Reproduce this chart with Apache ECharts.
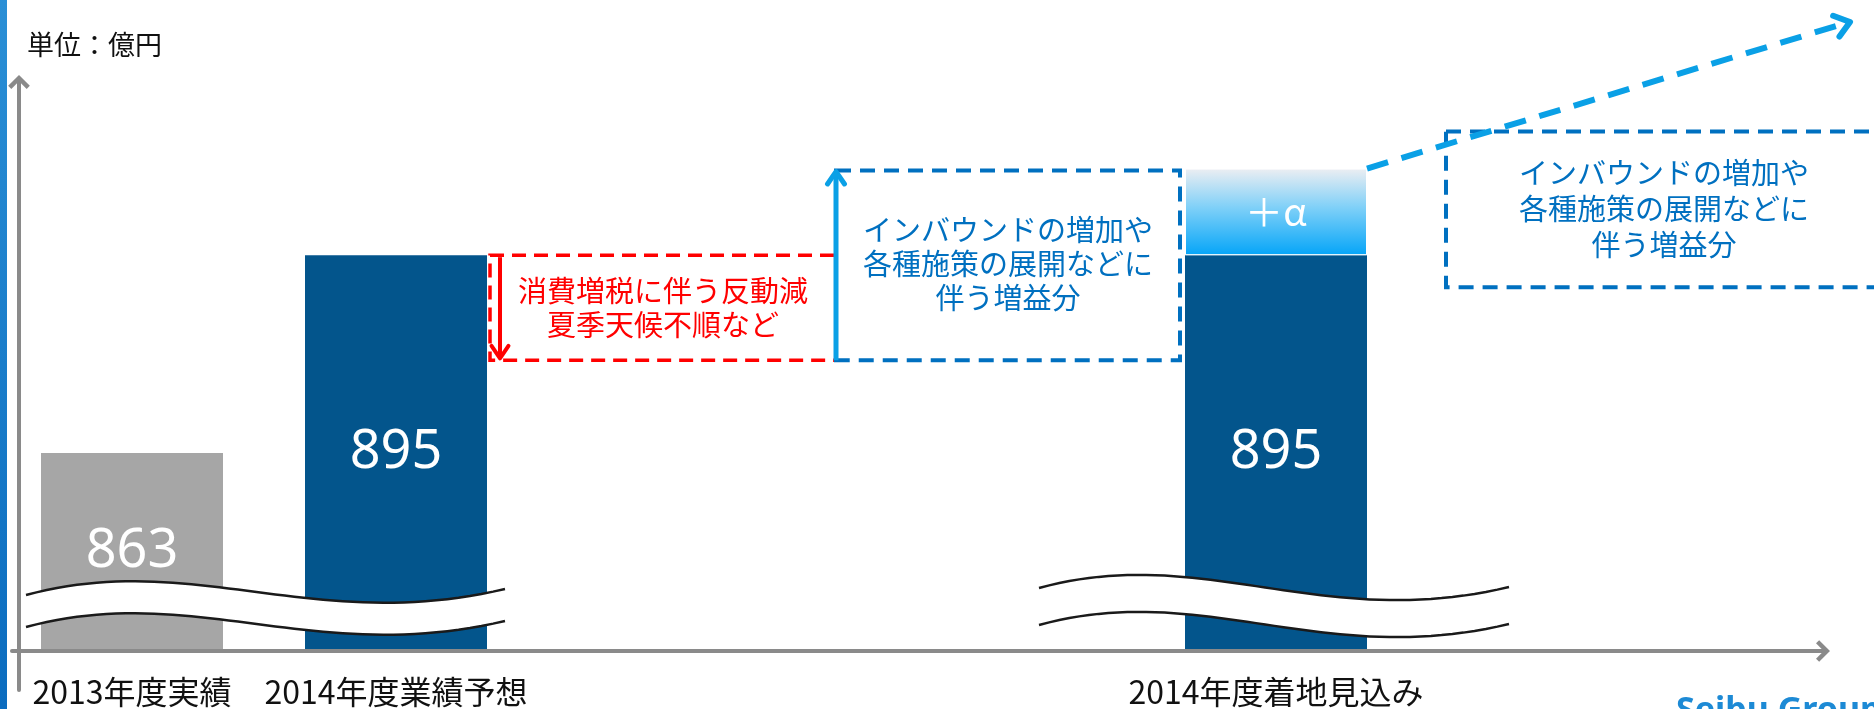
<!DOCTYPE html>
<html><head><meta charset="utf-8">
<script src="https://cdn.jsdelivr.net/npm/echarts@6/dist/echarts.min.js"></script>
<style>html,body{margin:0;padding:0;background:#fff;overflow:hidden}#c{width:1874px;height:709px;}</style>
</head><body><div id="c"></div>
<script>
// ---- data ----
const categories = ['','2013年度実績','','','2014年度業績予想','','','','','','','','','','2014年度着地見込み','',''];
const mainValues = [null,863,null,null,895,null,null,null,null,null,null,null,null,null,895,null,null];
const upsideValues = [null,null,null,null,null,null,null,null,null,null,null,null,null,null,14,null,null];
const upsideLabel = '＋α';
const declineLevel = 878;
const unitLabel = '単位：億円';
const declineNote = ['消費増税に伴う反動減','夏季天候不順など'];
const upsideNote = ['インバウンドの増加や','各種施策の展開などに','伴う増益分'];
const logoText = 'Seibu Group';
const yMin = 831, yMax = 923;

// ---- chart ----
const JP = '"Noto Sans CJK JP", "Noto Sans", sans-serif';
const BAR_W = 182;
const GRAY = '#a6a6a6', NAVY = '#03558c', RED = '#ff0000', BLUE = '#0070c0', SKY = '#0aa0e6', AXIS = '#8a8a8a';
const CHEVRON = 'path://M12,0 L24,12 L20.5,15.5 L12,7 L3.5,15.5 L0,12 Z';

const chart = echarts.init(document.getElementById('c'), null, {renderer: 'canvas'});
const decoAxisLine = {show: true, onZero: true, lineStyle: {color: AXIS, width: 4}, symbol: ['none', CHEVRON], symbolSize: [22, 14], symbolOffset: [0, 0]};
const firstIdx = categories.indexOf('2013年度実績');
chart.setOption({
  animation: false,
  backgroundColor: '#fff',
  grid: [
    {left: -3, right: 378, top: 82, bottom: 58},
    {left: 12, right: 51, top: 82, bottom: 19}
  ],
  xAxis: [
    {type: 'category', gridIndex: 0, data: categories,
     axisLine: {show: false}, axisTick: {show: false}, splitLine: {show: false},
     axisLabel: {interval: 0, fontSize: 32, color: '#111', margin: 25, fontFamily: JP}},
    {type: 'value', gridIndex: 1, min: -7, max: 1804, z: 5,
     axisLine: decoAxisLine, axisTick: {show: false}, axisLabel: {show: false}, splitLine: {show: false}}
  ],
  yAxis: [
    {type: 'value', gridIndex: 0, min: yMin, max: yMax, show: false},
    {type: 'value', gridIndex: 1, min: -39, max: 569, z: 5,
     axisLine: decoAxisLine, axisTick: {show: false}, axisLabel: {show: false}, splitLine: {show: false}}
  ],
  series: [
    {type: 'bar', name: 'base', xAxisIndex: 0, yAxisIndex: 0, stack: 'total', barWidth: BAR_W,
     data: mainValues,
     itemStyle: {color: p => p.dataIndex === firstIdx ? GRAY : NAVY},
     label: {show: true, position: 'inside', color: '#fff', fontSize: 54, fontFamily: '"Noto Sans", sans-serif'}},
    {type: 'bar', name: 'upside', xAxisIndex: 0, yAxisIndex: 0, stack: 'total', barWidth: BAR_W,
     data: upsideValues,
     itemStyle: {borderColor: '#fff', borderWidth: 1,
       color: {type: 'linear', x: 0, y: 0, x2: 0, y2: 1, colorStops: [
         {offset: 0, color: '#eceef2'}, {offset: 0.45, color: '#7fd0f8'}, {offset: 1, color: '#05a5f8'}]}},
     label: {show: true, position: 'inside', formatter: upsideLabel, color: '#fff', fontSize: 38, fontFamily: JP}}
  ]
});

// ---- annotations (anchored on library coordinates) ----
const px = (i, v) => chart.convertToPixel({gridIndex: 0}, [i, v]);
const i1 = firstIdx, i2 = categories.indexOf('2014年度業績予想'), i3 = categories.indexOf('2014年度着地見込み');
const half = BAR_W / 2;
const c1 = px(i1, mainValues[i1])[0];
const [c2, yTop2] = px(i2, mainValues[i2]);
const [c3, yTop3] = px(i3, mainValues[i3]);
const yUp = px(i3, mainValues[i3] + upsideValues[i3])[1];
const yDecl = px(i2, declineLevel)[1];
const yBase = px(i1, yMin)[1];

function chevron(tx, ty, ang, len, spread, color, w) {
  const a1 = ang + Math.PI - spread, a2 = ang + Math.PI + spread;
  return {type: 'polyline', z: 120, shape: {points: [[tx + len * Math.cos(a1), ty + len * Math.sin(a1)], [tx, ty], [tx + len * Math.cos(a2), ty + len * Math.sin(a2)]]},
    style: {stroke: color, lineWidth: w, fill: 'none', lineCap: 'round', lineJoin: 'round'}};
}
function bez(p0, p1, p2, p3, n) {
  const pts = [];
  for (let k = 0; k <= n; k++) {
    const t = k / n, u = 1 - t;
    pts.push([u*u*u*p0[0] + 3*u*u*t*p1[0] + 3*u*t*t*p2[0] + t*t*t*p3[0],
              u*u*u*p0[1] + 3*u*u*t*p1[1] + 3*u*t*t*p2[1] + t*t*t*p3[1]]);
  }
  return pts;
}
function wave(x0, x1, ys, ye, amp) {
  const W = x1 - x0;
  return bez([x0, ys], [x0 + 0.35 * W, ys - amp], [x0 + 0.6 * W, ye + amp], [x1, ye], 48);
}
function breakMark(x0, x1, ys, ye, gap, amp) {
  const up = wave(x0, x1, ys, ye, amp);
  const lo = wave(x0, x1, ys + gap, ye + gap, amp);
  return [
    {type: 'polygon', z: 110, shape: {points: up.concat(lo.slice().reverse())}, style: {fill: '#fff'}},
    {type: 'polyline', z: 111, shape: {points: up}, style: {stroke: '#1a1a1a', lineWidth: 2.5, fill: 'none'}},
    {type: 'polyline', z: 111, shape: {points: lo}, style: {stroke: '#1a1a1a', lineWidth: 2.5, fill: 'none'}}
  ];
}

const mid = (c2 + half + c3 - half) / 2;
const redL = c2 + half + 3;
const blueR = c3 - half - 5;
const rightL = c3 + half + 79;
const rTop = yUp - 37, rBot = yTop3 + 32;
const g = [];
// left slide strip
g.push({type: 'rect', z: 100, shape: {x: 0, y: 0, width: 7, height: 709},
  style: {fill: {type: 'linear', x: 0, y: 0, x2: 0, y2: 1, colorStops: [{offset: 0, color: '#2a8fd6'}, {offset: 1, color: '#0b6cbf'}]}}});
// unit
g.push({type: 'text', z: 100, style: {text: unitLabel, x: 27, y: 45, textVerticalAlign: 'middle', font: '27px ' + JP, fill: '#111'}});
// breaks
g.push(...breakMark(c1 - half - 15, c2 + half + 18, yBase - 56, yBase - 62, 32, 45));
g.push(...breakMark(c3 - half - 146, c3 + half + 142, yBase - 63, yBase - 64, 37, 45));
// red decline box
g.push({type: 'rect', z: 115, shape: {x: redL, y: yTop2, width: mid - redL, height: yDecl - yTop2},
  style: {fill: 'none', stroke: RED, lineWidth: 3.5, lineDash: [14, 8]}});
g.push({type: 'line', z: 116, shape: {x1: redL + 10, y1: yTop2 + 2, x2: redL + 10, y2: yDecl - 3},
  style: {stroke: RED, lineWidth: 4}});
g.push(chevron(redL + 10, yDecl - 2, Math.PI / 2, 15, 0.6, RED, 4));
g.push({type: 'text', z: 116, style: {text: declineNote.join('\n'), x: (redL + mid) / 2, y: (yTop2 + yDecl) / 2,
  textAlign: 'center', textVerticalAlign: 'middle', font: '29px ' + JP, lineHeight: 34, fill: RED}});
// blue upside box (middle)
g.push({type: 'rect', z: 115, shape: {x: mid, y: yUp + 2, width: blueR - mid, height: yDecl - yUp - 2},
  style: {fill: 'none', stroke: BLUE, lineWidth: 4, lineDash: [15, 9]}});
g.push({type: 'line', z: 117, shape: {x1: mid, y1: yDecl, x2: mid, y2: yUp + 4},
  style: {stroke: SKY, lineWidth: 5}});
g.push(chevron(mid, yUp + 3, -Math.PI / 2, 15, 0.6, SKY, 5));
g.push({type: 'text', z: 116, style: {text: upsideNote.join('\n'), x: (mid + blueR) / 2, y: (yUp + yDecl) / 2,
  textAlign: 'center', textVerticalAlign: 'middle', font: '29px ' + JP, lineHeight: 34, fill: BLUE}});
// right box
g.push({type: 'rect', z: 115, shape: {x: rightL, y: rTop, width: 500, height: rBot - rTop},
  style: {fill: 'none', stroke: BLUE, lineWidth: 4, lineDash: [15, 9]}});
g.push({type: 'text', z: 116, style: {text: upsideNote.join('\n'), x: rightL + 218, y: (rTop + rBot) / 2,
  textAlign: 'center', textVerticalAlign: 'middle', font: '29px ' + JP, lineHeight: 36, fill: BLUE}});
// dashed growth arrow
const ax0 = c3 + half, ay0 = yUp, ax1 = 1850, ay1 = 22;
g.push({type: 'line', z: 117, shape: {x1: ax0, y1: ay0, x2: ax1 - 4, y2: ay1 + 1},
  style: {stroke: SKY, lineWidth: 6, lineDash: [22, 14]}});
g.push(chevron(ax1, ay1, Math.atan2(ay1 - ay0, ax1 - ax0), 18, 0.65, SKY, 6));
// logo (cut off at bottom)
g.push({type: 'text', z: 100, style: {text: logoText, x: 1676, y: 694, textVerticalAlign: 'top',
  font: 'bold 34px "Noto Sans", sans-serif', fill: '#1d8ad5'}});

chart.setOption({graphic: g});
</script>
</body></html>
